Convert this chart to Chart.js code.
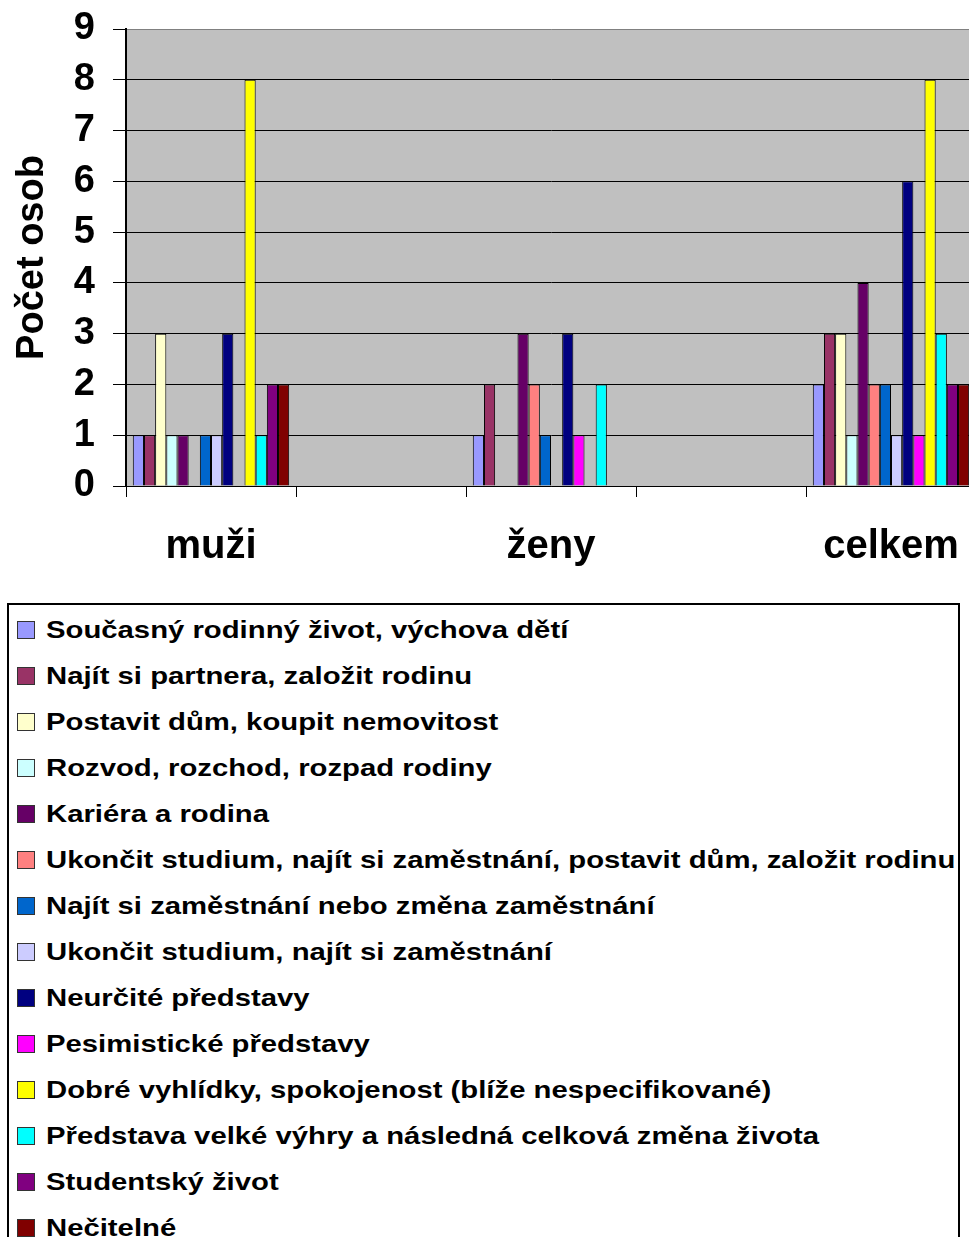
<!DOCTYPE html>
<html lang="cs">
<head>
<meta charset="utf-8">
<title>Počet osob</title>
<script src="https://cdn.jsdelivr.net/npm/chart.js@4/dist/chart.umd.min.js"></script>
<style>
  html, body { margin: 0; padding: 0; background: #fff; width: 969px; height: 1237px; overflow: hidden; }
  #graf-box { position: absolute; left: 0; top: 0; width: 1000px; height: 600px; }
  #legenda {
    position: absolute; left: 7px; top: 603px; width: 953px; height: 700px;
    border: 2px solid #000; box-sizing: border-box; padding-top: 2px;
    font-family: "Liberation Sans", Arial, sans-serif; font-weight: bold; font-size: 24px; color: #000;
  }
  #legenda .item { display: flex; align-items: center; height: 46px; }
  #legenda .box { width: 16px; height: 16px; border: 1px solid #333; margin-left: 8px; flex: none; }
  #legenda .txt { display: inline-block; white-space: nowrap; margin-left: 11px; transform: scaleX(1.22); transform-origin: left center; }
</style>
</head>
<body>
<div id="graf-box"><canvas id="graf"></canvas></div>
<div id="legenda"></div>

<script>
// --- data ---
const kategorie = ['muži', '', 'ženy', '', 'celkem'];

const nazvy = [
  'Současný rodinný život, výchova dětí',
  'Najít si partnera, založit rodinu',
  'Postavit dům, koupit nemovitost',
  'Rozvod, rozchod, rozpad rodiny',
  'Kariéra a rodina',
  'Ukončit studium, najít si zaměstnání, postavit dům, založit rodinu',
  'Najít si zaměstnání nebo změna zaměstnání',
  'Ukončit studium, najít si zaměstnání',
  'Neurčité představy',
  'Pesimistické představy',
  'Dobré vyhlídky, spokojenost (blíže nespecifikované)',
  'Představa velké výhry a následná celková změna života',
  'Studentský život',
  'Nečitelné'
];

const muzi   = [1, 1, 3, 1, 1, 0, 1, 1, 3, 0, 8, 1, 2, 2];
const zeny   = [1, 2, 0, 0, 3, 2, 1, 0, 3, 1, 0, 2, 0, 0];
const celkem = [2, 3, 3, 1, 4, 2, 2, 1, 6, 1, 8, 3, 2, 2];

const barvy = [
  '#9999FF', '#993366', '#FFFFCC', '#CCFFFF', '#660066', '#FF8080', '#0066CC',
  '#CCCCFF', '#000080', '#FF00FF', '#FFFF00', '#00FFFF', '#800080', '#800000'
];

const yTicks = [0, 1, 2, 3, 4, 5, 6, 7, 8, 9];

// --- datasets ---
const datasets = nazvy.map((nazev, i) => ({
  label: nazev,
  data: [muzi[i], null, zeny[i], null, celkem[i]],
  backgroundColor: barvy[i],
  borderColor: '#000',
  borderWidth: 1,
  barPercentage: 1,
  categoryPercentage: 0.92
}));

// seda plocha grafu
const pozadiPlugin = {
  id: 'pozadi',
  beforeDraw(chart) {
    const { ctx, chartArea: a } = chart;
    ctx.save();
    ctx.fillStyle = '#C0C0C0';
    ctx.fillRect(a.left, a.top, a.right - a.left, a.bottom - a.top);
    ctx.restore();
  }
};

const pismo = '"Liberation Sans", Arial, sans-serif';

const graf = new Chart(document.getElementById('graf'), {
  type: 'bar',
  data: { labels: kategorie, datasets: datasets },
  plugins: [pozadiPlugin],
  options: {
    responsive: true,
    maintainAspectRatio: false,
    animation: false,
    layout: { padding: { top: 29, right: 24, left: 0, bottom: 0 } },
    plugins: {
      legend: { display: false },
      tooltip: { enabled: false }
    },
    scales: {
      x: {
        offset: true,
        grid: { display: true, offset: true, drawOnChartArea: false, drawTicks: true, tickLength: 11, color: '#000', lineWidth: 1 },
        border: { display: true, color: '#000', width: 1 },
        ticks: { color: '#000', padding: 26, maxRotation: 0, autoSkip: false, font: { family: pismo, size: 40, weight: 'bold' } },
        afterFit(scale) { scale.height = 114; }
      },
      y: {
        min: 0,
        max: 9,
        afterBuildTicks(scale) { scale.ticks = yTicks.map(v => ({ value: v })); },
        grid: {
          color: c => (c.tick && c.tick.value === 9 ? '#808080' : '#000'),
          tickColor: '#000',
          tickLength: 13,
          lineWidth: 1
        },
        border: { display: true, color: '#000', width: 2 },
        ticks: { color: '#000', padding: 18, font: { family: pismo, size: 38, weight: 'bold' } },
        title: {
          display: true,
          text: 'Počet osob',
          color: '#000',
          padding: { top: 10, bottom: 0 },
          font: { family: pismo, size: 38, weight: 'bold' }
        },
        afterFit(scale) {
          scale.width = 126;
          scale.paddingTop = 0;
          scale.paddingBottom = 0;
        }
      }
    }
  }
});

// --- legenda pod grafem ---
const legendaEl = document.getElementById('legenda');
graf.data.datasets.forEach(ds => {
  const row = document.createElement('div');
  row.className = 'item';
  row.innerHTML = `<span class="box" style="background:${ds.backgroundColor}"></span><span class="txt">${ds.label}</span>`;
  legendaEl.appendChild(row);
});
</script>
</body>
</html>
